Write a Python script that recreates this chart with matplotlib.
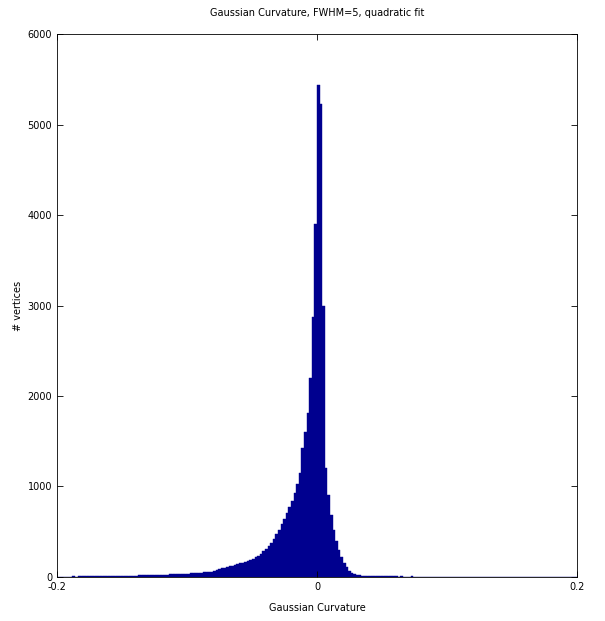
import matplotlib
matplotlib.use("Agg")
import matplotlib.pyplot as plt
import numpy as np

# Histogram bins: left edges from -0.2 with width 0.002 (200 bins)
bin_start = -0.2
bin_width = 0.002
counts = [
    2, 3, 3, 4, 3, 4, 5, 4, 5, 6,
    6, 7, 6, 8, 7, 8, 9, 8, 9, 10,
    10, 11, 10, 12, 12, 13, 13, 14, 14, 15,
    15, 16, 17, 18, 18, 19, 20, 21, 22, 23,
    24, 26, 25, 28, 27, 30, 31, 33, 34, 36,
    37, 40, 41, 43, 45, 46, 49, 53, 55, 58,
    64, 72, 83, 95, 102, 110, 117, 125, 133, 142,
    150, 158, 170, 180, 192, 203, 220, 236, 258, 285,
    310, 340, 380, 420, 470, 520, 580, 640, 705, 770,
    840, 925, 1030, 1150, 1430, 1600, 1810, 2200, 2870, 3900,
    5440, 5230, 3000, 1200, 900, 680, 520, 400, 300, 220,
    150, 105, 70, 45, 32, 24, 18, 14, 12, 10,
    10, 9, 8, 8, 7, 6, 7, 5, 6, 5,
    5, 4, 5, 4, 3, 4, 5, 3, 4, 3,
    3, 4, 2, 3, 3, 2, 4, 2, 3, 2,
    2, 3, 1, 2, 3, 2, 1, 2, 2, 1,
    2, 1, 2, 1, 1, 3, 1, 2, 1, 1,
    1, 2, 1, 1, 2, 0, 1, 1, 2, 1,
    1, 0, 1, 1, 0, 2, 1, 0, 1, 1,
    0, 1, 1, 0, 1, 0, 1, 0, 0, 1,
]
x_ticks = [-0.2, 0, 0.2]
x_tick_labels = ["-0.2", "0", "0.2"]
y_ticks = [0, 1000, 2000, 3000, 4000, 5000, 6000]

title = "Gaussian Curvature, FWHM=5, quadratic fit"
xlabel = "Gaussian Curvature"
ylabel = "# vertices"

edges = bin_start + bin_width * np.arange(len(counts))

fig = plt.figure(figsize=(6.05, 6.21), dpi=100)
ax = fig.add_axes([0.094, 0.071, 0.860, 0.874])
ax.bar(edges, counts, width=bin_width, align="edge", color="#00008F",
       edgecolor="#00008F", linewidth=0.3)
ax.set_xlim(-0.2, 0.2)
ax.set_ylim(0, 6000)
ax.set_xticks(x_ticks)
ax.set_xticklabels(x_tick_labels)
ax.set_yticks(y_ticks)
ax.tick_params(direction="in", labelsize=7, length=4, width=0.6,
               top=True, right=True)
for s in ax.spines.values():
    s.set_linewidth(0.6)
ax.set_title(title, fontsize=7, pad=13)
ax.set_xlabel(xlabel, fontsize=7, labelpad=8)
ax.set_ylabel(ylabel, fontsize=7, labelpad=3)
fig.savefig("out.png", dpi=100)
